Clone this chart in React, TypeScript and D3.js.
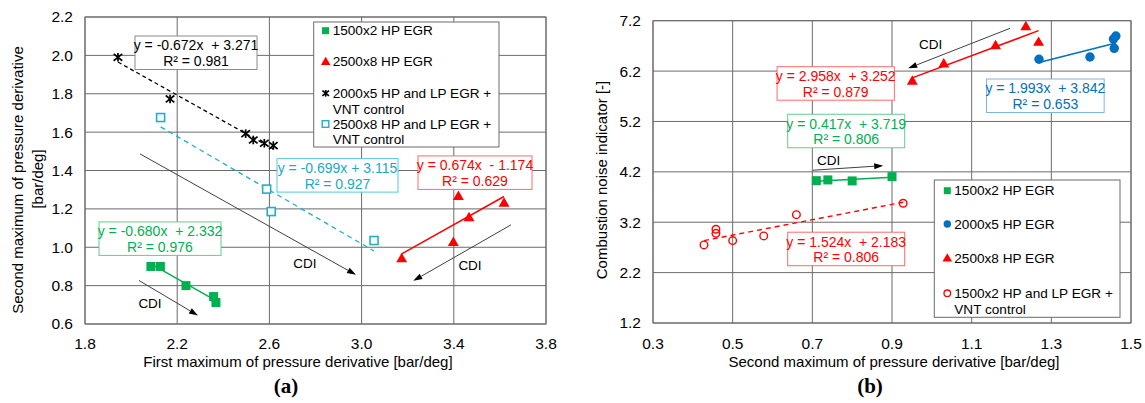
import React from 'react';
import * as d3 from 'd3';

// ---------- Chart (a) data ----------
const aXTicks = [1.8, 2.2, 2.6, 3.0, 3.4, 3.8];
const aYTicks = [0.6, 0.8, 1.0, 1.2, 1.4, 1.6, 1.8, 2.0, 2.2];

const aGreenX = [2.086, 2.127, 2.238, 2.358, 2.368];
const aGreenY = [0.900, 0.900, 0.800, 0.743, 0.712];
const aRedX = [3.174, 3.398, 3.420, 3.466, 3.618];
const aRedY = [0.943, 1.028, 1.268, 1.157, 1.233];
const aBlackX = [1.943, 2.169, 2.497, 2.530, 2.578, 2.617];
const aBlackY = [1.990, 1.773, 1.592, 1.559, 1.542, 1.530];
const aCyanX = [2.128, 2.588, 2.608, 3.054];
const aCyanY = [1.676, 1.303, 1.186, 1.035];

const aLegend = [
  ['1500x2 HP EGR'],
  ['2500x8 HP EGR'],
  ['2000x5 HP and LP EGR +', 'VNT control'],
  ['2500x8 HP and LP EGR +', 'VNT control'],
];

// ---------- Chart (b) data ----------
const bXTicks = [0.3, 0.5, 0.7, 0.9, 1.1, 1.3, 1.5];
const bYTicks = [1.2, 2.2, 3.2, 4.2, 5.2, 6.2, 7.2];

const bGreenX = [0.710, 0.739, 0.800, 0.900];
const bGreenY = [4.025, 4.040, 4.020, 4.105];
const bBlueX = [1.269, 1.397, 1.456, 1.462, 1.458];
const bBlueY = [6.434, 6.480, 6.837, 6.896, 6.652];
const bRedX = [0.951, 1.030, 1.160, 1.236, 1.268];
const bRedY = [6.010, 6.355, 6.718, 7.095, 6.783];
const bOpenX = [0.428, 0.458, 0.458, 0.500, 0.578, 0.660, 0.928];
const bOpenY = [2.750, 3.061, 2.980, 2.835, 2.928, 3.350, 3.577];

const bLegend = [
  ['1500x2 HP EGR'],
  ['2000x5 HP EGR'],
  ['2500x8 HP EGR'],
  ['1500x2 HP and LP EGR +', 'VNT control'],
];

// trend label data
const aTrendLabels = [
  { t1: 'y = -0.672x  + 3.271', t2: 'R² = 0.981', cx: 2.2816, ty: 2.101, key: 'black' },
  { t1: 'y = -0.699x + 3.115', t2: 'R² = 0.927', cx: 2.8955, ty: 1.462, key: 'cyan' },
  { t1: 'y = 0.674x  - 1.174', t2: 'R² = 0.629', cx: 3.492, ty: 1.476, key: 'red' },
  { t1: 'y = -0.680x  + 2.332', t2: 'R² = 0.976', cx: 2.1254, ty: 1.132, key: 'green' },
];
const bTrendLabels = [
  { t1: 'y = 2.958x  + 3.252', t2: 'R² = 0.879', cx: 0.7587, ty: 6.287, key: 'red' },
  { t1: 'y = 0.417x  + 3.719', t2: 'R² = 0.806', cx: 0.785, ty: 5.343, key: 'green' },
  { t1: 'y = 1.993x  + 3.842', t2: 'R² = 0.653', cx: 1.285, ty: 6.043, key: 'blue' },
  { t1: 'y = 1.524x  + 2.183', t2: 'R² = 0.806', cx: 0.785, ty: 3.002, key: 'red' },
];

// CDI arrows [x1,y1,x2,y2] in data units and label positions
const aArrows = [
  [2.0386, 1.4865, 2.9757, 0.8563],
  [2.0343, 0.8266, 2.2902, 0.6443],
  [3.6482, 1.1167, 3.2243, 0.825],
];
const aCdi = [[2.7544, 0.9188], [2.082, 0.707], [3.4703, 0.905]];
const bArrows = [
  [1.1964, 7.049, 0.9407, 6.256],
  [0.7008, 4.232, 0.8779, 4.323],
];
const bCdi = [[0.9969, 6.732], [0.741, 4.436]];

const C = {
  green: '#00b050',
  red: '#ff0000',
  cyan: '#1fb0c8',
  blue: '#0070c0',
  black: '#000000',
  grid: '#6b6b6b',
};
const BORDER: Record<string, string> = {
  black: '#8c8c8c',
  cyan: '#55c8da',
  red: '#ff6b6b',
  green: '#66cc8f',
  blue: '#7fb3e0',
};
const TEXTC: Record<string, string> = {
  black: '#000',
  cyan: '#21a9c2',
  red: '#ff0000',
  green: '#00b050',
  blue: '#0070c0',
};

const FONT = 'Liberation Sans, Arial, sans-serif';

const tri = d3.symbol(d3.symbolTriangle, 52)() as string;
const triSmall = d3.symbol(d3.symbolTriangle, 40)() as string;

function Asterisk({ x, y, s = 4.3 }: { x: number; y: number; s?: number }) {
  return (
    <g transform={`translate(${x},${y})`} stroke="#000" strokeWidth={1.7}>
      <line x1={-s} y1={-s * 0.8} x2={s} y2={s * 0.8} />
      <line x1={-s} y1={s * 0.8} x2={s} y2={-s * 0.8} />
      <line x1={0} y1={-s} x2={0} y2={s} />
    </g>
  );
}

function TrendLabel({ x, y, t1, t2, k, w }: any) {
  const h = 33.5;
  return (
    <g>
      <rect x={x - w / 2} y={y} width={w} height={h} fill="#fff" stroke={BORDER[k]} strokeWidth={1} />
      <text x={x} y={y + 14.5} textAnchor="middle" fontSize={14} fill={TEXTC[k]} style={{ whiteSpace: 'pre' }}>{t1}</text>
      <text x={x} y={y + 30} textAnchor="middle" fontSize={14} fill={TEXTC[k]}>{t2}</text>
    </g>
  );
}

function Arrow({ x1, y1, x2, y2 }: any) {
  const ang = Math.atan2(y2 - y1, x2 - x1);
  const L = 9, W = 3;
  const bx = x2 - L * Math.cos(ang), by = y2 - L * Math.sin(ang);
  const px = -Math.sin(ang) * W, py = Math.cos(ang) * W;
  return (
    <g>
      <line x1={x1} y1={y1} x2={bx} y2={by} stroke="#404040" strokeWidth={1} />
      <path d={`M${x2},${y2}L${bx + px},${by + py}L${bx - px},${by - py}Z`} fill="#000" />
    </g>
  );
}

function trendLine(xs: number[], slope: number, intercept: number) {
  const lo = d3.min(xs) as number, hi = d3.max(xs) as number;
  return [[lo, slope * lo + intercept], [hi, slope * hi + intercept]];
}

function ChartA() {
  const x = d3.scaleLinear().domain([1.8, 3.8]).range([85, 546]);
  const y = d3.scaleLinear().domain([0.6, 2.2]).range([324, 17]);
  const line = d3.line<number[]>().x(d => x(d[0])).y(d => y(d[1]));
  const widths = [122, 121, 114, 122];
  const lg = { x: 313.7, y: 22, w: 185.3, h: 125 };
  const rows = [30.7, 61.7, 93.3, 124];
  return (
    <g fontFamily={FONT}>
      {aXTicks.map(t => <line key={'gx' + t} x1={x(t)} x2={x(t)} y1={y(2.2)} y2={y(0.6)} stroke={C.grid} strokeWidth={1} />)}
      {aYTicks.map(t => <line key={'gy' + t} x1={x(1.8)} x2={x(3.8)} y1={y(t)} y2={y(t)} stroke={C.grid} strokeWidth={1} />)}
      <rect x={x(1.8)} y={y(2.2)} width={x(3.8) - x(1.8)} height={y(0.6) - y(2.2)} fill="none" stroke={C.grid} />
      {aYTicks.map(t => <text key={'ty' + t} x={73} y={y(t)} dy="0.35em" textAnchor="end" fontSize={15.5}>{t.toFixed(1)}</text>)}
      {aXTicks.map(t => <text key={'tx' + t} x={x(t)} y={349} textAnchor="middle" fontSize={15.5}>{t.toFixed(1)}</text>)}
      <text x={298} y={367} textAnchor="middle" fontSize={15}>First maximum of pressure derivative [bar/deg]</text>
      <text transform="translate(18,180) rotate(-90)" dy="0.35em" textAnchor="middle" fontSize={15}>Second maximum of pressure derivative</text>
      <text transform="translate(37.5,179) rotate(-90)" dy="0.35em" textAnchor="middle" fontSize={15}>[bar/deg]</text>
      <text x={286} y={393} textAnchor="middle" fontSize={21} fontWeight="bold" fontFamily="Liberation Serif, serif">(a)</text>

      {aArrows.map((a, i) => <Arrow key={'ar' + i} x1={x(a[0])} y1={y(a[1])} x2={x(a[2])} y2={y(a[3])} />)}
      {aCdi.map((c, i) => <text key={'cdi' + i} x={x(c[0])} y={y(c[1])} dy="0.35em" textAnchor="middle" fontSize={13.5}>CDI</text>)}

      <path d={line(trendLine(aBlackX, -0.672, 3.271)) as string} stroke="#000" strokeDasharray="4,3" fill="none" strokeWidth={1.3} />
      <path d={line(trendLine(aCyanX, -0.699, 3.115)) as string} stroke={C.cyan} strokeDasharray="5,4" fill="none" strokeWidth={1.3} />
      <path d={line(trendLine(aRedX, 0.674, -1.174)) as string} stroke={C.red} fill="none" strokeWidth={1.5} />
      <path d={line(trendLine(aGreenX, -0.680, 2.332)) as string} stroke={C.green} fill="none" strokeWidth={1.5} />

      {aGreenX.map((v, i) => <rect key={'gs' + i} x={x(v) - 4.5} y={y(aGreenY[i]) - 4.5} width={9} height={9} fill={C.green} />)}
      {aRedX.map((v, i) => <path key={'rt' + i} d={tri} transform={`translate(${x(v)},${y(aRedY[i]) + 1})`} fill={C.red} />)}
      {aBlackX.map((v, i) => <Asterisk key={'bk' + i} x={x(v)} y={y(aBlackY[i])} />)}
      {aCyanX.map((v, i) => <rect key={'cy' + i} x={x(v) - 4} y={y(aCyanY[i]) - 4} width={8} height={8} fill="#fff" stroke={C.cyan} strokeWidth={1.6} />)}

      {aTrendLabels.map((l, i) => <TrendLabel key={'tl' + i} x={x(l.cx)} y={y(l.ty)} t1={l.t1} t2={l.t2} k={l.key} w={widths[i]} />)}

      <rect x={lg.x} y={lg.y} width={lg.w} height={lg.h} fill="#fff" stroke={C.grid} />
      {aLegend.map((lines, i) => (
        <g key={'lg' + i}>
          {i === 0 && <rect x={322} y={rows[i] - 3.5} width={7} height={7} fill={C.green} />}
          {i === 1 && <path d={triSmall} transform={`translate(325.7,${rows[i] + 0.5})`} fill={C.red} />}
          {i === 2 && <Asterisk x={325.7} y={rows[i]} s={3.3} />}
          {i === 3 && <rect x={322.2} y={rows[i] - 3.3} width={6.6} height={6.6} fill="#fff" stroke={C.cyan} strokeWidth={1.4} />}
          {lines.map((t, j) => <text key={j} x={332.7} y={rows[i] + j * 15.7} dy="0.35em" fontSize={13.6}>{t}</text>)}
        </g>
      ))}
    </g>
  );
}

function ChartB() {
  const x = d3.scaleLinear().domain([0.3, 1.5]).range([653, 1131]);
  const y = d3.scaleLinear().domain([1.2, 7.2]).range([323, 20.7]);
  const line = d3.line<number[]>().x(d => x(d[0])).y(d => y(d[1]));
  const widths = [117.3, 117, 117.6, 117];
  const lg = { x: 934.3, y: 180, w: 185.7, h: 137.3 };
  const rows = [190.7, 224, 258.3, 293.3];
  return (
    <g fontFamily={FONT}>
      {bXTicks.map(t => <line key={'gx' + t} x1={x(t)} x2={x(t)} y1={y(7.2)} y2={y(1.2)} stroke={C.grid} strokeWidth={1} />)}
      {bYTicks.map(t => <line key={'gy' + t} x1={x(0.3)} x2={x(1.5)} y1={y(t)} y2={y(t)} stroke={C.grid} strokeWidth={1} />)}
      <rect x={x(0.3)} y={y(7.2)} width={x(1.5) - x(0.3)} height={y(1.2) - y(7.2)} fill="none" stroke={C.grid} />
      {bYTicks.map(t => <text key={'ty' + t} x={641} y={y(t)} dy="0.35em" textAnchor="end" fontSize={15.5}>{t.toFixed(1)}</text>)}
      {bXTicks.map(t => <text key={'tx' + t} x={x(t)} y={349} textAnchor="middle" fontSize={15.5}>{t.toFixed(1)}</text>)}
      <text x={894} y={367} textAnchor="middle" fontSize={15}>Second maximum of pressure derivative [bar/deg]</text>
      <text transform="translate(602,180) rotate(-90)" dy="0.35em" textAnchor="middle" fontSize={15}>Combustion noise indicator [-]</text>
      <text x={870} y={393} textAnchor="middle" fontSize={21} fontWeight="bold" fontFamily="Liberation Serif, serif">(b)</text>

      {bArrows.map((a, i) => <Arrow key={'ar' + i} x1={x(a[0])} y1={y(a[1])} x2={x(a[2])} y2={y(a[3])} />)}
      {bCdi.map((c, i) => <text key={'cdi' + i} x={x(c[0])} y={y(c[1])} dy="0.35em" textAnchor="middle" fontSize={13.5}>CDI</text>)}

      <path d={line(trendLine(bGreenX, 0.417, 3.719)) as string} stroke={C.green} fill="none" strokeWidth={1.5} />
      <path d={line(trendLine(bBlueX, 1.993, 3.842)) as string} stroke={C.blue} fill="none" strokeWidth={1.5} />
      <path d={line(trendLine(bRedX, 2.958, 3.252)) as string} stroke={C.red} fill="none" strokeWidth={1.5} />
      <path d={line(trendLine(bOpenX, 1.524, 2.183)) as string} stroke={C.red} strokeDasharray="5,4" fill="none" strokeWidth={1.4} />

      {bGreenX.map((v, i) => <rect key={'gs' + i} x={x(v) - 4.5} y={y(bGreenY[i]) - 4.5} width={9} height={9} fill={C.green} />)}
      {bBlueX.map((v, i) => <circle key={'bc' + i} cx={x(v)} cy={y(bBlueY[i])} r={4.7} fill={C.blue} />)}
      {bRedX.map((v, i) => <path key={'rt' + i} d={tri} transform={`translate(${x(v)},${y(bRedY[i]) + 1})`} fill={C.red} />)}
      {bOpenX.map((v, i) => <circle key={'oc' + i} cx={x(v)} cy={y(bOpenY[i])} r={3.8} fill="none" stroke={C.red} strokeWidth={1.4} />)}

      {bTrendLabels.map((l, i) => <TrendLabel key={'tl' + i} x={x(l.cx)} y={y(l.ty)} t1={l.t1} t2={l.t2} k={l.key} w={widths[i]} />)}

      <rect x={lg.x} y={lg.y} width={lg.w} height={lg.h} fill="#fff" stroke={C.grid} />
      {bLegend.map((lines, i) => (
        <g key={'lg' + i}>
          {i === 0 && <rect x={943.8} y={rows[i] - 3.5} width={7} height={7} fill={C.green} />}
          {i === 1 && <circle cx={947.3} cy={rows[i]} r={3.7} fill={C.blue} />}
          {i === 2 && <path d={triSmall} transform={`translate(947.3,${rows[i] + 0.5})`} fill={C.red} />}
          {i === 3 && <circle cx={947.3} cy={rows[i]} r={3.3} fill="none" stroke={C.red} strokeWidth={1.3} />}
          {lines.map((t, j) => <text key={j} x={954.3} y={rows[i] + j * 15.5} dy="0.35em" fontSize={13.6}>{t}</text>)}
        </g>
      ))}
    </g>
  );
}

export default function App() {
  return (
    <svg width={1145} height={403} style={{ position: 'absolute', left: 0, top: 0, display: 'block', background: '#fff' }}>
      <rect width={1145} height={403} fill="#fff" />
      <ChartA />
      <ChartB />
    </svg>
  );
}
